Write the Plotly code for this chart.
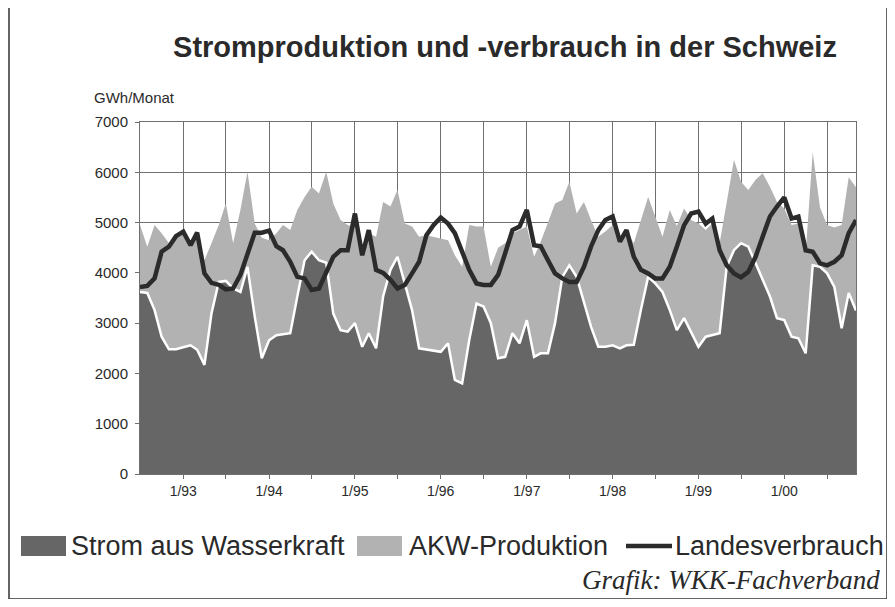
import pandas as pd
import plotly.graph_objects as go

# Monthly values, GWh/Monat, July 1992 - November 2000
months = pd.date_range("1992-07-01", periods=101, freq="MS")

wasserkraft = [3620, 3600, 3260, 2730, 2480, 2480, 2520, 2560, 2470, 2170,
               3190, 3820, 3840, 3690, 3620, 4120, 3130, 2300, 2660, 2760,
               2780, 2800, 3530, 4250, 4420, 4250, 4200, 3190, 2860, 2830,
               3000, 2530, 2800, 2500, 3530, 4060, 4320, 3790, 3260, 2500,
               2480, 2460, 2430, 2600, 1870, 1800, 2660, 3390, 3330, 3000,
               2300, 2330, 2800, 2600, 3060, 2330, 2400, 2400, 3000, 3920,
               4150, 3920, 3390, 2930, 2530, 2530, 2560, 2500, 2560, 2570,
               3260, 3920, 3790, 3620, 3260, 2860, 3100, 2830, 2530, 2730,
               2760, 2800, 4120, 4450, 4590, 4520, 4190, 3860, 3530, 3100,
               3060, 2730, 2700, 2400, 4150, 4120, 3990, 3720, 2900, 3600,
               3250]

akw = [1330, 920, 1690, 2060, 2110, 2270, 2300, 2040, 2350, 2080,
       1400, 1130, 1540, 900, 1630, 1890, 1850, 2400, 1990, 2030,
       2170, 2050, 1720, 1260, 1290, 1330, 1810, 2190, 2190, 2120,
       1900, 1920, 1990, 2220, 1880, 1260, 1330, 1190, 1660, 2220,
       2270, 2260, 2260, 2050, 2480, 2320, 2290, 1530, 1590, 1120,
       2200, 2260, 1990, 2250, 1860, 1990, 2220, 2600, 2380, 1530,
       1660, 1260, 2020, 2120, 2190, 2290, 2390, 2120, 2290, 2020,
       1790, 1590, 1330, 1100, 1990, 2070, 2180, 2220, 2450, 2120,
       2220, 1790, 1280, 1800, 1220, 1130, 1660, 2120, 2180, 2310,
       2220, 2220, 2280, 2000, 2250, 1180, 960, 1180, 2050, 2300,
       2450]

landesverbrauch = [3720, 3740, 3890, 4420, 4520, 4730, 4820, 4550, 4800, 3990,
                   3800, 3760, 3670, 3690, 3960, 4390, 4800, 4800, 4840, 4530,
                   4450, 4220, 3920, 3890, 3660, 3690, 3990, 4320, 4450, 4450,
                   5180, 4350, 4850, 4060, 4000, 3860, 3690, 3760, 3990, 4220,
                   4750, 4950, 5100, 4980, 4790, 4390, 4060, 3790, 3760, 3760,
                   3960, 4390, 4850, 4920, 5250, 4550, 4530, 4250, 3990, 3890,
                   3820, 3820, 4120, 4520, 4850, 5050, 5120, 4620, 4850, 4320,
                   4060, 3990, 3890, 3890, 4120, 4520, 4950, 5180, 5220, 4980,
                   5080, 4450, 4150, 3990, 3910, 4020, 4320, 4720, 5120, 5320,
                   5500, 5080, 5120, 4450, 4420, 4190, 4150, 4220, 4350, 4790,
                   5050]

tick_dates = pd.date_range("1993-01-01", "2000-07-01", freq="6MS")
tick_labels = [d.strftime("%-m/%y") if d.month == 1 else "" for d in tick_dates]
y_ticks = [0, 1000, 2000, 3000, 4000, 5000, 6000, 7000]

C_DARK = "#666666"
C_LIGHT = "#b2b2b2"
C_LINE = "#2b2b2b"
C_TEXT = "#2a2a2a"
C_GRID = "#6f6f6f"

# page has an 8px body margin: figure is drawn at offset OFF in the window
OFF = 8
W, H = 895 - 2 * OFF, 607 - 2 * OFF
# plot area in window pixels (reference coordinates)
L, R, T, B = 140, 856, 122, 474


def px(x):
    return (x - L) / (R - L)


def py(y):
    return (B - y) / (B - T)


fig = go.Figure()
fig.add_trace(go.Scatter(x=months, y=wasserkraft, name="Strom aus Wasserkraft",
                         mode="lines", stackgroup="prod",
                         line=dict(color="white", width=2.5),
                         fillcolor=C_DARK))
fig.add_trace(go.Scatter(x=months, y=akw, name="AKW-Produktion",
                         mode="lines", stackgroup="prod",
                         line=dict(color=C_LIGHT, width=0),
                         fillcolor=C_LIGHT))
fig.add_trace(go.Scatter(x=months, y=landesverbrauch, name="Landesverbrauch",
                         mode="lines", line=dict(color=C_LINE, width=4.5)))

shapes = [
    # outer frame
    dict(type="rect", xref="paper", yref="paper", x0=px(9), x1=px(887), y0=py(599), y1=py(7),
         line=dict(color="#333", width=1.5), fillcolor="rgba(0,0,0,0)", layer="below"),
    # legend swatches
    dict(type="rect", xref="paper", yref="paper", x0=px(21), x1=px(66), y0=py(556), y1=py(536),
         line=dict(width=0), fillcolor=C_DARK),
    dict(type="rect", xref="paper", yref="paper", x0=px(357), x1=px(402), y0=py(556), y1=py(536),
         line=dict(width=0), fillcolor=C_LIGHT),
    dict(type="line", xref="paper", yref="paper", x0=px(626), x1=px(672), y0=py(546), y1=py(546),
         line=dict(color=C_LINE, width=4.5)),
]

annotations = [
    dict(text="GWh/Monat", x=px(92), y=py(97), xref="paper", yref="paper",
         xanchor="left", yanchor="middle", showarrow=False,
         font=dict(family="Liberation Sans, Arial", size=15, color=C_TEXT)),
    dict(text="Strom aus Wasserkraft", x=px(69), y=py(546), xref="paper", yref="paper",
         xanchor="left", yanchor="middle", showarrow=False,
         font=dict(family="Liberation Sans, Arial", size=27, color=C_TEXT)),
    dict(text="AKW-Produktion", x=px(407), y=py(546), xref="paper", yref="paper",
         xanchor="left", yanchor="middle", showarrow=False,
         font=dict(family="Liberation Sans, Arial", size=27, color=C_TEXT)),
    dict(text="Landesverbrauch", x=px(673), y=py(546), xref="paper", yref="paper",
         xanchor="left", yanchor="middle", showarrow=False,
         font=dict(family="Liberation Sans, Arial", size=27, color=C_TEXT)),
    dict(text="<i>Grafik: WKK-Fachverband</i>", x=px(882), y=py(580), xref="paper", yref="paper",
         xanchor="right", yanchor="middle", showarrow=False,
         font=dict(family="Liberation Serif, Times New Roman", size=27, color=C_TEXT)),
]

fig.update_layout(
    width=W, height=H,
    margin=dict(l=L - OFF, r=W - (R - OFF), t=T - OFF, b=H - (B - OFF)),
    paper_bgcolor="white", plot_bgcolor="white",
    showlegend=False,
    title=dict(text="Stromproduktion und -verbrauch in der Schweiz",
               x=(505 - OFF) / W, xanchor="center", y=1 - (47 - OFF) / H, yanchor="middle",
               font=dict(family="Liberation Sans, Arial", size=29, color=C_TEXT, weight="bold")),
    font=dict(family="Liberation Sans, Arial", color=C_TEXT),
    shapes=shapes, annotations=annotations,
    xaxis=dict(range=[months[0], months[-1]], tickvals=tick_dates, ticktext=tick_labels,
               showgrid=True, gridcolor=C_GRID, gridwidth=1,
               showline=True, linecolor=C_GRID, linewidth=1, mirror=True,
               ticks="outside", ticklen=4, tickcolor=C_GRID,
               tickfont=dict(size=14, color=C_TEXT), zeroline=False),
    yaxis=dict(range=[0, 7000], tickvals=y_ticks,
               showgrid=True, gridcolor=C_GRID, gridwidth=1,
               showline=True, linecolor=C_GRID, linewidth=1, mirror=True,
               ticks="outside", ticklen=4, tickcolor=C_GRID,
               tickfont=dict(size=15, color=C_TEXT), zeroline=False,
               ticklabelstandoff=4),
)

fig.write_html("out.html")
